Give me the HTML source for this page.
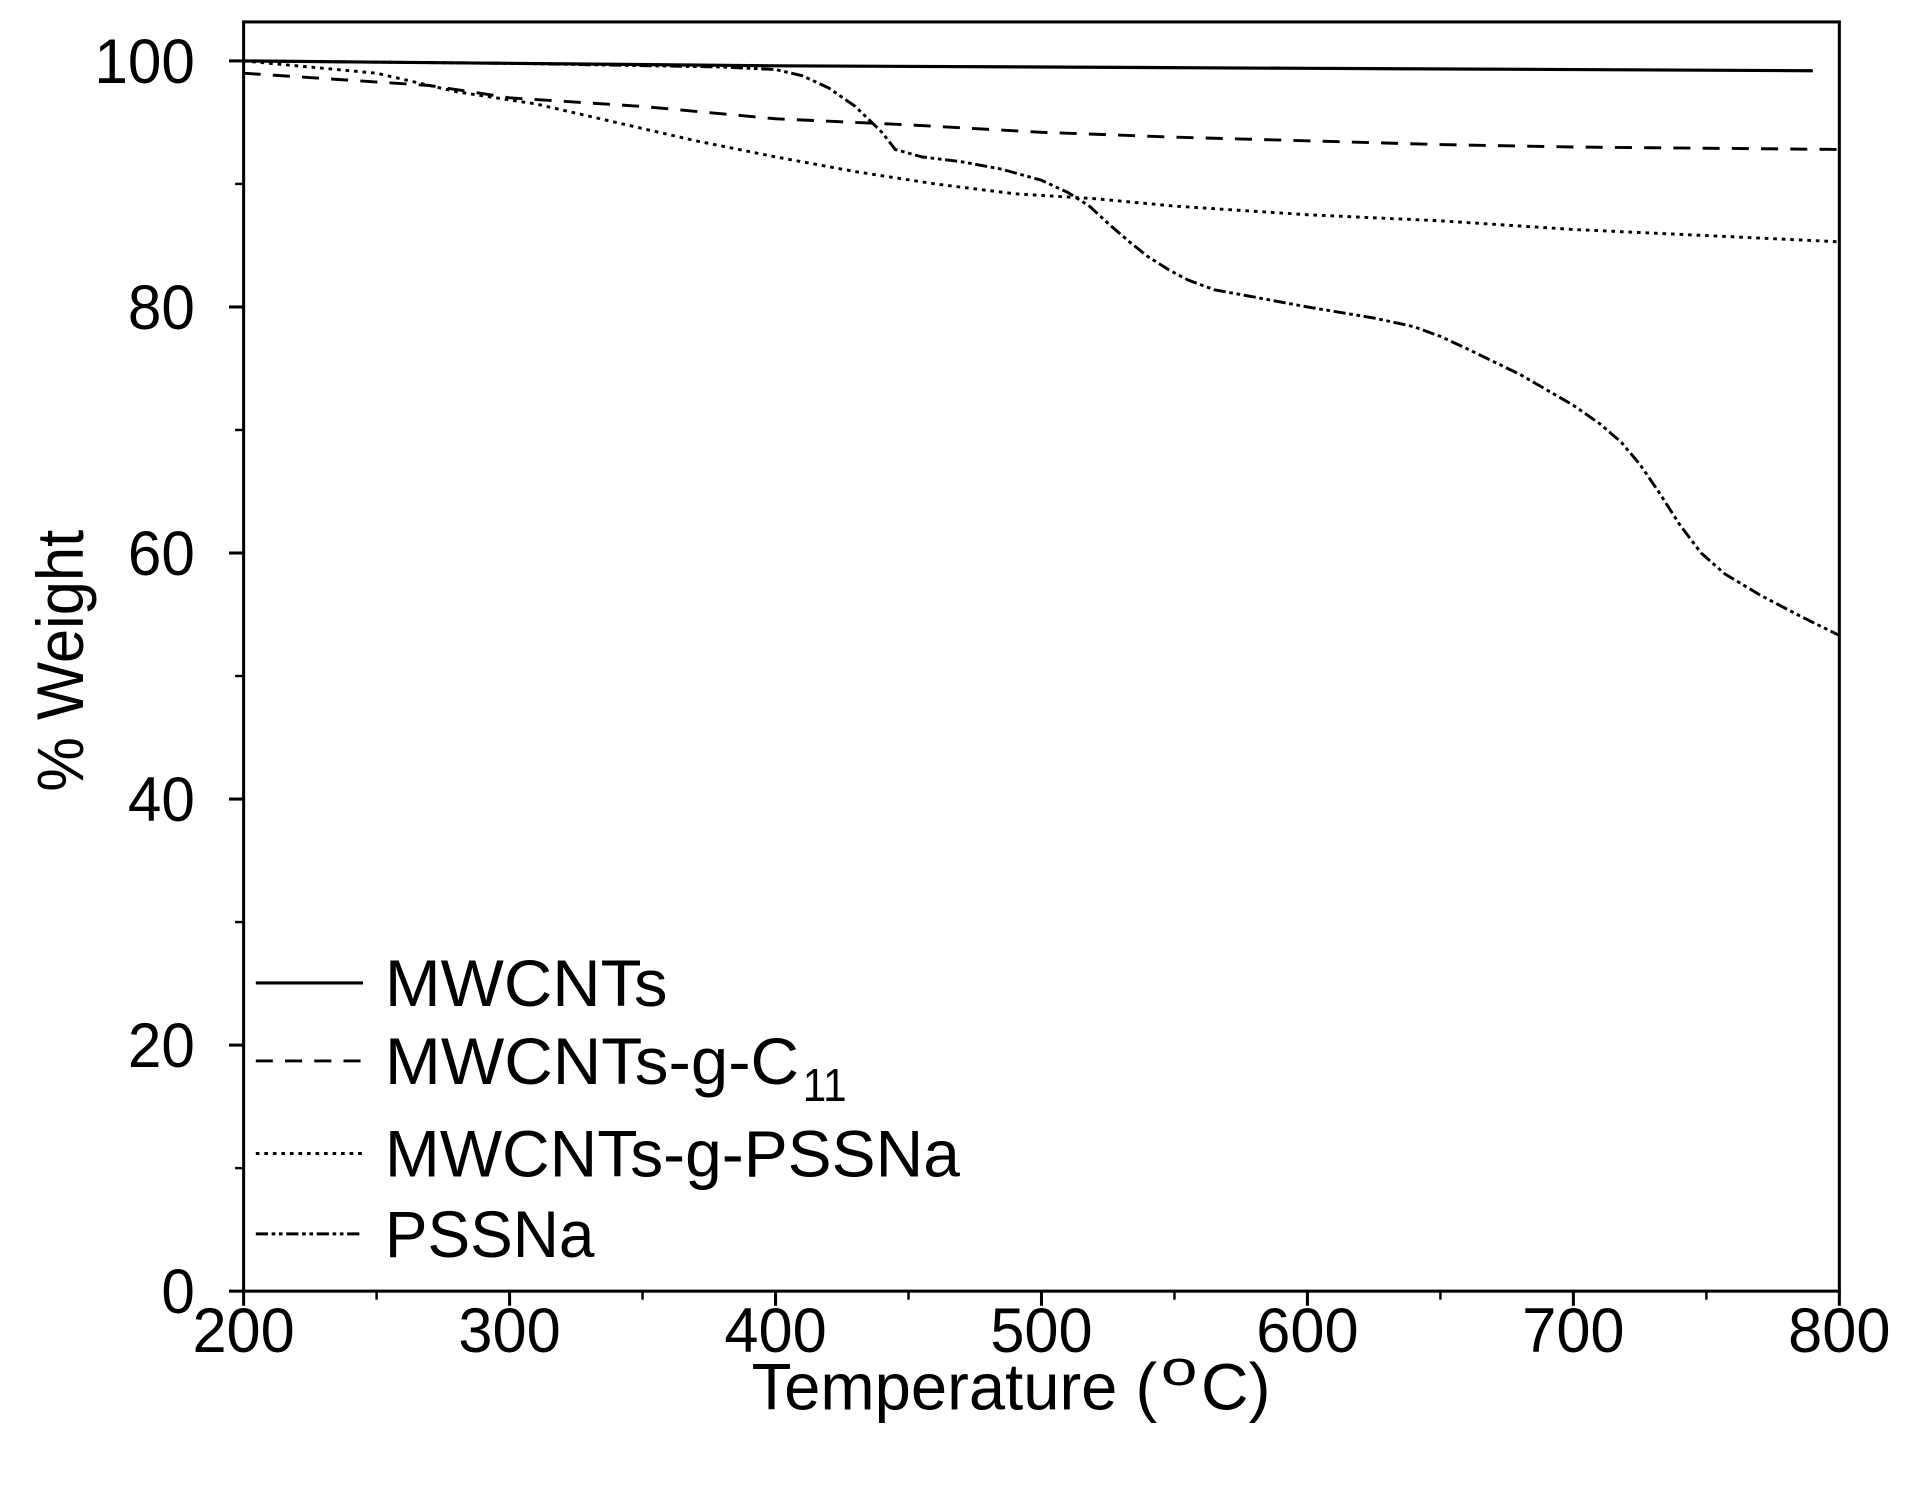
<!DOCTYPE html>
<html><head><meta charset="utf-8"><style>
html,body{margin:0;padding:0;background:#fff;}
svg{display:block;}
text{font-family:"Liberation Sans Narrow","Liberation Sans",sans-serif;fill:#000;}
</style></head><body>
<svg id="chart" width="1910" height="1511" viewBox="0 0 1568 1240.5" preserveAspectRatio="none" xmlns="http://www.w3.org/2000/svg">
<g id="plot"></g>
</svg>
<script>
const xTicks=[200,300,400,500,600,700,800];
const yTicks=[0,20,40,60,80,100];
const tMw=[200,300,400,500,600,700,790];
const wMw=[100,99.8,99.6,99.5,99.4,99.3,99.2];
const tC11=[200,270,300,350,400,450,500,550,600,650,700,750,800];
const wC11=[99,98,97,96.3,95.3,94.8,94.2,93.8,93.5,93.2,93,92.9,92.8];
const tGP=[200,250,280,310,340,370,400,430,460,490,520,550,600,650,700,750,800];
const wGP=[100,99,97.5,96.5,95,93.5,92.2,91,90,89.2,88.8,88.2,87.5,87,86.3,85.8,85.3];
const tP=[200,300,380,400,410,420,430,440,445,455,470,485,500,510,518,525,533,540,548,555,565,580,600,625,640,650,660,680,700,710,718,725,732,740,748,757,770,785,800];
const wP=[100,99.8,99.5,99.3,98.8,97.8,96.3,94.2,92.8,92.2,91.8,91.2,90.3,89.3,88.2,86.8,85.3,84.1,83,82.2,81.4,80.8,80,79.1,78.4,77.6,76.6,74.5,72,70.5,69,67.2,65,62.3,60,58.3,56.6,54.9,53.3];
const names=["MWCNTs","MWCNTs-g-C","MWCNTs-g-PSSNa","PSSNa"];
const NS="http://www.w3.org/2000/svg";
const L=200,R=1510,T=18,B=1060;
const X=v=>L+(v-200)/600*(R-L);
const Y=v=>B-v/100*(B-50);
const g=document.getElementById('plot');
function mk(tag,attrs,parent){const e=document.createElementNS(NS,tag);for(const k in attrs)e.setAttribute(k,attrs[k]);(parent||g).appendChild(e);return e;}
const frame=mk('rect',{x:L,y:T,width:R-L,height:B-T,fill:'none',stroke:'#000','stroke-width':2.5});


xTicks.forEach((v,i)=>{
  const t=mk('line',{x1:X(v),x2:X(v),y1:B,y2:B+12,stroke:'#000','stroke-width':2.5});
  
  
  if(i<xTicks.length-1){const m=mk('line',{x1:X(v+50),x2:X(v+50),y1:B,y2:B+7,stroke:'#000','stroke-width':2});
  
  }
  const lb=mk('text',{x:X(v)-42,y:B+50,'font-size':52,textLength:84,lengthAdjust:'spacingAndGlyphs'});lb.textContent=v;
  
  
});
yTicks.forEach((v,i)=>{
  const t=mk('line',{x1:L-12,x2:L,y1:Y(v),y2:Y(v),stroke:'#000','stroke-width':2.5});
  
  
  if(i<yTicks.length-1){const m=mk('line',{x1:L-7,x2:L,y1:Y(v+10),y2:Y(v+10),stroke:'#000','stroke-width':2});
  
  }
  const s=String(v);const w=s.length*27.5;
  const lb=mk('text',{x:160-w,y:Y(v)+18,'font-size':52,textLength:w,lengthAdjust:'spacingAndGlyphs'});lb.textContent=v;
  
  
});
const xg=mk('g',{});


const xt1=mk('text',{x:617,y:1157,'font-size':54,textLength:333,lengthAdjust:'spacingAndGlyphs'},xg);xt1.textContent='Temperature (';
const xt2=mk('text',{x:953,y:1137,'font-size':40,textLength:30,lengthAdjust:'spacingAndGlyphs'},xg);xt2.textContent='o';
const xt3=mk('text',{x:986,y:1157,'font-size':54,textLength:57,lengthAdjust:'spacingAndGlyphs'},xg);xt3.textContent='C)';
const yt=mk('text',{x:0,y:0,'font-size':54,textLength:215,lengthAdjust:'spacingAndGlyphs',transform:'translate(68,650) rotate(-90)'});
yt.textContent='% Weight';


const styles=[{d:'none',w:2.6},{d:'14,10',w:2.4},{d:'3,4',w:2.4},{d:'10,3,3,3,3,3',w:2.4}];
const series=[[tMw,wMw],[tC11,wC11],[tGP,wGP],[tP,wP]];
const snames=['series-mwcnts','series-mwcnts-g-c11','series-mwcnts-g-pssna','series-pssna'];
series.forEach((s,i)=>{
  const d=s[0].map((t,j)=>(j?'L':'M')+X(t).toFixed(1)+','+Y(s[1][j]).toFixed(1)).join(' ');
  const p=mk('path',{d:d,fill:'none',stroke:'#000','stroke-width':styles[i].w,'stroke-dasharray':styles[i].d,'stroke-linejoin':'round'});
  
  
});
const ly=[807,871,947,1013];
const lw=[232,340,472,172];
names.forEach((n,i)=>{
  const ln=mk('line',{x1:210,x2:298,y1:ly[i],y2:ly[i],stroke:'#000','stroke-width':styles[i].w,'stroke-dasharray':styles[i].d});
  
  
  const tx=mk('text',{x:316,y:ly[i]+19,'font-size':54,textLength:lw[i],lengthAdjust:'spacingAndGlyphs'});
  tx.textContent=n;
  
  
  if(i===1){const sb=mk('text',{x:659,y:ly[i]+33,'font-size':38,textLength:36,lengthAdjust:'spacingAndGlyphs'});sb.textContent='11';
  
  }
});
</script>
</body></html>
